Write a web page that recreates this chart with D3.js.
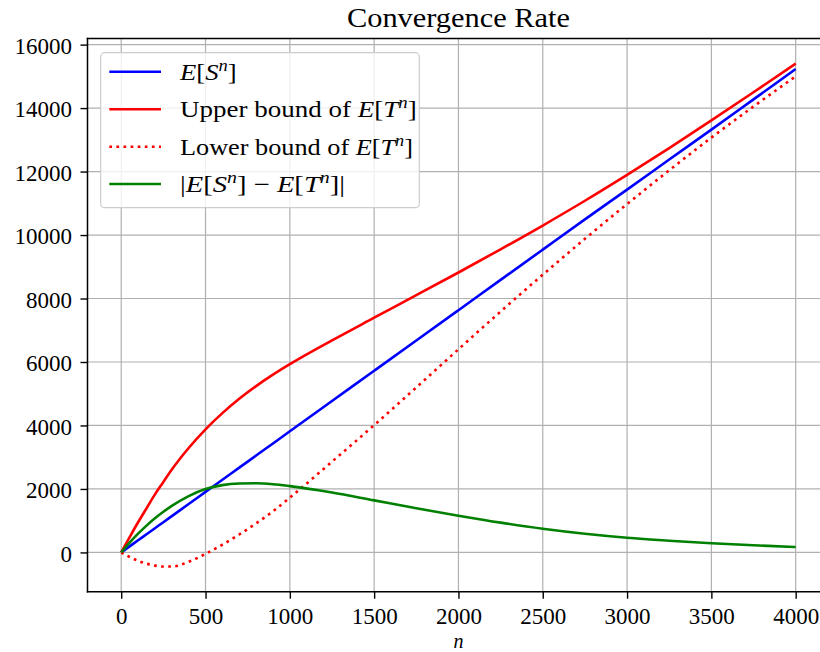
<!DOCTYPE html>
<html>
<head>
<meta charset="utf-8">
<script src="https://cdn.jsdelivr.net/npm/d3@7"></script>
<style>
  html, body { margin: 0; padding: 0; background: #ffffff; }
  svg { display: block; }
  text { font-family: "Liberation Serif", "DejaVu Serif", serif; fill: #000; }
</style>
</head>
<body>
<svg id="chart" width="820" height="652"></svg>
<script>
// Sample points along n
const nValues = [0, 50, 100, 150, 200, 250, 300, 400, 500, 600, 700, 800, 900, 1000,
  1250, 1500, 1750, 2000, 2250, 2500, 2750, 3000, 3250, 3500, 3750, 4000];

// E[S^n]
const expectedS = [0, 190, 382, 572, 763, 953, 1144, 1526, 1908, 2290, 2671, 3053, 3434, 3816,
  4770, 5724, 6678, 7632, 8586, 9540, 10494, 11430, 12380, 13320, 14275, 15230];

// Upper bound of E[T^n]
const upperT = [0, 480, 950, 1390, 1830, 2220, 2610, 3290, 3880, 4390, 4840, 5240, 5600, 5930,
  6680, 7395, 8105, 8820, 9550, 10300, 11080, 11895, 12740, 13610, 14500, 15400];

// Lower bound of E[T^n]
const lowerT = [0, -145, -265, -355, -415, -445, -445, -295, -45, 245, 565, 915, 1295, 1725,
  2860, 4010, 5200, 6400, 7590, 8750, 9880, 10975, 12040, 13070, 14050, 15000];

// |E[S^n] - E[T^n]|
const absDiff = [0, 310, 590, 845, 1075, 1280, 1465, 1775, 1995, 2120, 2170, 2180, 2150, 2090,
  1890, 1640, 1390, 1158, 940, 748, 590, 464, 370, 290, 225, 170];

const xTicks = [0, 500, 1000, 1500, 2000, 2500, 3000, 3500, 4000];
const yTicks = [0, 2000, 4000, 6000, 8000, 10000, 12000, 14000, 16000];

const svg = d3.select("#chart");

// Axes box
const box = { left: 87.5, right: 829.4, top: 38.5, bottom: 591.7 };

// Data limits with 5% margins
const allY = expectedS.concat(upperT, lowerT, absDiff);
const yMin = d3.min(allY), yMax = d3.max(allY);
const yPad = (yMax - yMin) * 0.05;
const xMin = d3.min(nValues), xMax = d3.max(nValues);
const xPad = (xMax - xMin) * 0.05;

const x = d3.scaleLinear().domain([xMin - xPad, xMax + xPad]).range([box.left, box.right]);
const y = d3.scaleLinear().domain([yMin - yPad, yMax + yPad]).range([box.bottom, box.top]);

// Grid
const grid = svg.append("g").attr("stroke", "#b0b0b0").attr("stroke-width", 1.2);
grid.selectAll("line.gx").data(xTicks).join("line").attr("class", "gx")
  .attr("x1", d => x(d)).attr("x2", d => x(d))
  .attr("y1", box.top).attr("y2", box.bottom);
grid.selectAll("line.gy").data(yTicks).join("line").attr("class", "gy")
  .attr("x1", box.left).attr("x2", box.right)
  .attr("y1", d => y(d)).attr("y2", d => y(d));

// Series
const series = [
  { name: "S", values: expectedS, color: "#0000ff", dash: null },
  { name: "U", values: upperT, color: "#ff0000", dash: null },
  { name: "L", values: lowerT, color: "#ff0000", dash: "2.7,4.4" },
  { name: "D", values: absDiff, color: "#008000", dash: null }
];

const line = d3.line()
  .x((d, i) => x(nValues[i]))
  .y(d => y(d))
  .curve(d3.curveMonotoneX);

svg.append("g").selectAll("path").data(series).join("path")
  .attr("d", s => line(s.values))
  .attr("fill", "none")
  .attr("stroke", s => s.color)
  .attr("stroke-width", 2.6)
  .attr("stroke-dasharray", s => s.dash)
  .attr("stroke-linecap", "butt")
  .attr("stroke-linejoin", "round");

// Spines
const spines = svg.append("g").attr("stroke", "#000").attr("stroke-width", 1.5).attr("fill", "none");
spines.append("line").attr("x1", box.left).attr("x2", box.left).attr("y1", box.top - 0.75).attr("y2", box.bottom + 0.75);
spines.append("line").attr("x1", box.left - 0.75).attr("x2", box.right).attr("y1", box.bottom).attr("y2", box.bottom);
spines.append("line").attr("x1", box.left - 0.75).attr("x2", box.right).attr("y1", box.top).attr("y2", box.top);
spines.append("line").attr("x1", box.right).attr("x2", box.right).attr("y1", box.top).attr("y2", box.bottom);

// Axes
const xAxis = d3.axisBottom(x).tickValues(xTicks).tickSize(7).tickPadding(9).tickFormat(d3.format("d"));
const yAxis = d3.axisLeft(y).tickValues(yTicks).tickSize(7).tickPadding(8.5).tickFormat(d3.format("d"));

const gx = svg.append("g").attr("transform", `translate(0,${box.bottom})`).call(xAxis);
const gy = svg.append("g").attr("transform", `translate(${box.left},0)`).call(yAxis);
[gx, gy].forEach(g => {
  g.select(".domain").remove();
  g.selectAll(".tick line").attr("stroke", "#000").attr("stroke-width", 1.4);
  g.selectAll(".tick text")
    .attr("font-size", 23)
    .attr("fill", "#000");
});
gy.selectAll(".tick text").attr("dy", "0.38em");

// Title
svg.append("text")
  .attr("x", (box.left + box.right) / 2).attr("y", 27)
  .attr("text-anchor", "middle")
  .attr("font-size", 28)
  .attr("textLength", 223).attr("lengthAdjust", "spacingAndGlyphs")
  .text("Convergence Rate");

// x label
svg.append("text")
  .attr("x", (box.left + box.right) / 2).attr("y", 647.5)
  .attr("text-anchor", "middle")
  .attr("font-size", 20)
  .attr("font-style", "italic")
  .text("n");

// Legend
const legend = svg.append("g");
legend.append("rect")
  .attr("x", 100.7).attr("y", 52.7)
  .attr("width", 318.6).attr("height", 155)
  .attr("rx", 4).attr("ry", 4)
  .attr("fill", "#ffffff").attr("fill-opacity", 0.8)
  .attr("stroke", "#cccccc").attr("stroke-width", 1.2);

const legendRows = [
  { color: "#0000ff", dash: null, width: 56.7,
    parts: [["E", true], ["[", false], ["S", true], ["n", true, "sup"], ["]", false]] },
  { color: "#ff0000", dash: null, width: 236.7,
    parts: [["Upper bound of ", false], ["E", true], ["[", false], ["T", true], ["n", true, "sup"], ["]", false]] },
  { color: "#ff0000", dash: "2.7,4.4", width: 233,
    parts: [["Lower bound of ", false], ["E", true], ["[", false], ["T", true], ["n", true, "sup"], ["]", false]] },
  { color: "#008000", dash: null, width: 165,
    parts: [["|", false], ["E", true], ["[", false], ["S", true], ["n", true, "sup"], ["]", false],
            [" \u2212 ", false], ["E", true], ["[", false], ["T", true], ["n", true, "sup"], ["]|", false]] }
];

const rowY = [71.7, 109.3, 146.7, 184];
legendRows.forEach((row, i) => {
  legend.append("line")
    .attr("x1", 109.3).attr("x2", 161)
    .attr("y1", rowY[i]).attr("y2", rowY[i])
    .attr("stroke", row.color).attr("stroke-width", 2.6)
    .attr("stroke-dasharray", row.dash);
  const t = legend.append("text")
    .attr("x", 180).attr("y", rowY[i] + 8)
    .attr("font-size", 23)
    .attr("textLength", row.width).attr("lengthAdjust", "spacingAndGlyphs");
  let raised = false;
  row.parts.forEach(p => {
    const ts = t.append("tspan").text(p[0]);
    if (p[1]) ts.attr("font-style", "italic");
    if (p[2] === "sup") {
      ts.attr("font-size", 16).attr("dy", -9);
      raised = true;
    } else if (raised) {
      ts.attr("dy", 9);
      raised = false;
    }
  });
});
</script>
</body>
</html>
